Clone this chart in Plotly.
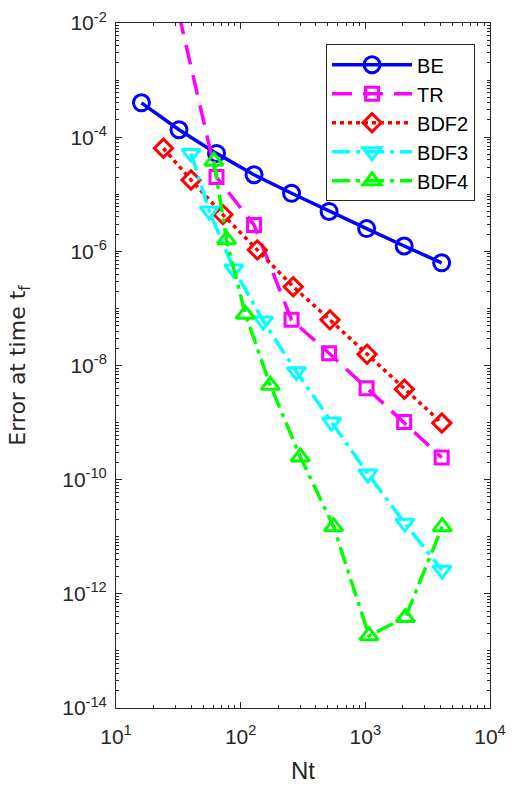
import plotly.graph_objects as go

# ---- data ----
be_nt = [16, 32, 64, 128, 256, 512, 1024, 2048, 4096]
be_err = [4.0e-4, 1.35e-4, 5.2e-5, 2.2e-5, 1.04e-5, 5.0e-6, 2.5e-6, 1.24e-6, 6.3e-7]

tr_nt = [32, 64, 128, 256, 512, 1024, 2048, 4096]
tr_err = [1.4e-2, 2.0e-5, 2.9e-6, 6.3e-8, 1.64e-8, 4.0e-9, 1.02e-9, 2.45e-10]

bdf2_nt = [24, 40, 72, 136, 264, 520, 1032, 2056, 4104]
bdf2_err = [6.4e-5, 1.78e-5, 4.4e-6, 1.06e-6, 2.4e-7, 6.3e-8, 1.58e-8, 3.85e-9, 9.8e-10]

bdf3_nt = [40, 56, 88, 152, 280, 536, 1048, 2072, 4120]
bdf3_err = [5.2e-5, 5.1e-6, 4.9e-7, 6.0e-8, 7.8e-9, 1.02e-9, 1.26e-10, 1.73e-11, 2.6e-12]

bdf4_nt = [61, 77, 109, 173, 301, 557, 1069, 2093, 4141]
bdf4_err = [3.8e-5, 1.6e-6, 7.9e-8, 4.5e-9, 2.5e-10, 1.5e-11, 1.85e-13, 3.85e-13, 1.5e-11]

x_tick_exp = [1, 2, 3, 4]
y_tick_exp = [-2, -4, -6, -8, -10, -12, -14]

series = [
    ("BE", be_nt, be_err, "#0000FF", "solid", "circle-open", 16),
    ("TR", tr_nt, tr_err, "#FF00FF", "20px,11px", "square-open", 13),
    ("BDF2", bdf2_nt, bdf2_err, "#FF0000", "4px,4px", "diamond-open", 14),
    ("BDF3", bdf3_nt, bdf3_err, "#00FFFF", "18px,6px,4px,6px", "triangle-down-open", 16),
    ("BDF4", bdf4_nt, bdf4_err, "#00FF00", "18px,6px,4px,6px", "triangle-up-open", 16),
]

FONT = "Liberation Sans, Arial, Helvetica, sans-serif"
INK = "#262626"
fig = go.Figure()
for name, xs, ys, col, dash, sym, size in series:
    fig.add_trace(go.Scatter(
        x=xs, y=ys, name=name, mode="lines+markers",
        line=dict(color=col, width=3.5, dash=dash),
        marker=dict(symbol=sym, size=size, color=col, line=dict(color=col, width=3)),
    ))

x_minor = [k * 10 ** e for e in range(1, 4) for k in range(2, 10)]
y_minor = [k * 10.0 ** e for e in range(-14, -2) for k in range(1, 10)]


def pow_label(e):
    return "10<sup>%d</sup>" % e


axis_common = dict(
    type="log", showline=True, linecolor=INK, linewidth=1, mirror="allticks",
    ticks="inside", ticklen=6, tickcolor=INK, showgrid=False, zeroline=False,
    automargin=False, tickmode="array",
    tickfont=dict(family=FONT, size=21, color=INK),
)

fig.update_layout(
    width=514, height=790,
    margin=dict(l=116, r=24, t=23, b=82),
    paper_bgcolor="white", plot_bgcolor="white",
    font=dict(family=FONT, color=INK),
    xaxis=dict(
        **axis_common, range=[1, 4], ticklabelstandoff=10,
        tickvals=[10.0 ** e for e in x_tick_exp], ticktext=[pow_label(e) for e in x_tick_exp],
        minor=dict(tickvals=x_minor, ticks="inside", ticklen=3, tickcolor=INK, showgrid=False),
        title=dict(text="Nt", font=dict(family=FONT, size=24, color=INK), standoff=14),
    ),
    yaxis=dict(
        **axis_common, range=[-14, -2], ticklabelstandoff=4,
        tickvals=[10.0 ** e for e in y_tick_exp], ticktext=[pow_label(e) for e in y_tick_exp],
        minor=dict(tickvals=y_minor, ticks="inside", ticklen=3, tickcolor=INK, showgrid=False),
        title=dict(text="Error at time t<sub>f</sub>",
                   font=dict(family="DejaVu Sans, sans-serif", size=22, color=INK), standoff=30),
    ),
    legend=dict(
        x=0.96, y=0.969, xanchor="right", yanchor="top",
        bgcolor="white", bordercolor=INK, borderwidth=1,
        font=dict(family=FONT, size=20, color="black"), itemwidth=80,
        tracegroupgap=0,
    ),
)

fig.write_html("out.html", config={"displayModeBar": False},
               post_script="document.body.style.margin='0';")
